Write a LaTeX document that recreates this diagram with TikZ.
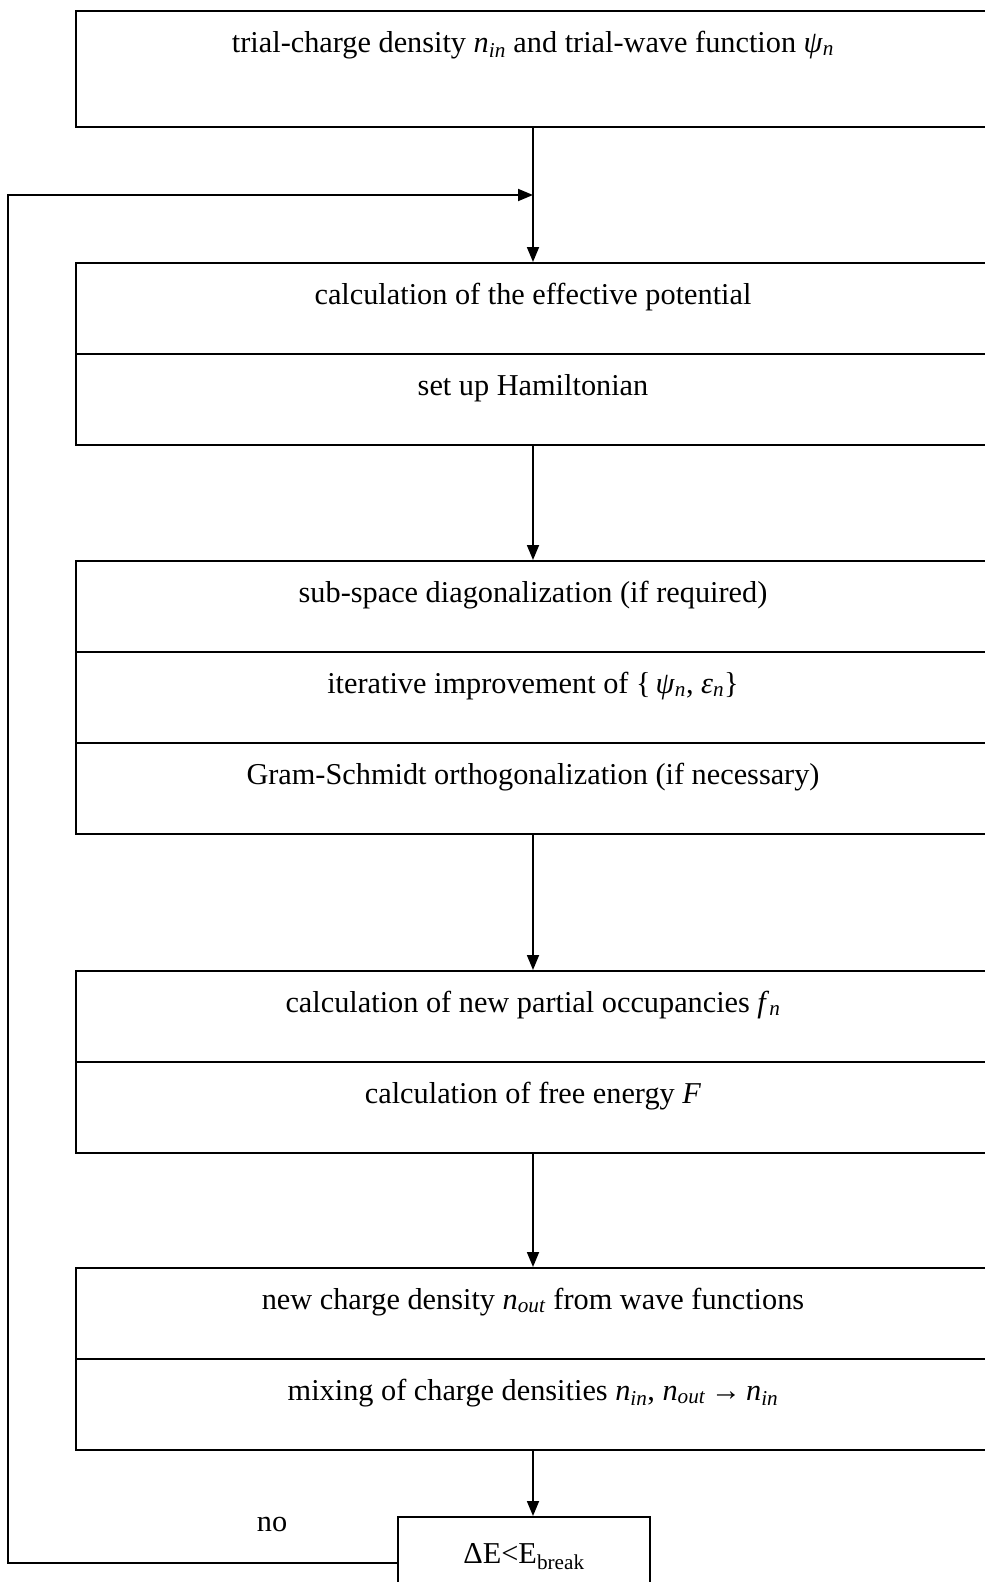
\documentclass[tikz,border=0pt]{standalone}
\usepackage{fontspec}
\setmainfont{Liberation Serif}
\usetikzlibrary{arrows.meta}
\newcommand{\isub}[2]{\textit{#1}\textsubscript{\textit{#2}}}
\begin{document}
\begin{tikzpicture}[x=1pt,y=-1pt,
    cell/.style={draw,line width=2.2pt,inner sep=0pt,minimum width=914pt,
      text height=41pt,text depth=50pt,anchor=north,
      font=\fontsize{30.3}{36}\selectfont},
    topcell/.style={cell,text depth=75pt},
    testcell/.style={cell,minimum width=252pt,text height=46pt,text depth=46pt},
    flow/.style={line width=1.8pt,-{Triangle[length=15pt,width=12pt]}}]
  \useasboundingbox (0,0) rectangle (985,1582);
  \clip (0,0) rectangle (985,1582);
  \draw
    (533,10) node[topcell] (trial){trial-charge density \isub{n}{in} and trial-wave function \isub{ψ}{n}}
    (533,262) node[cell] (effpot){calculation of the effective potential}
    (533,353) node[cell] (hamilt){set up Hamiltonian}
    (533,560) node[cell] (subdiag){sub-space diagonalization (if required)}
    (533,651) node[cell] (iterimp){iterative improvement of \{\,\isub{ψ}{n}, \isub{ε}{n}\}}
    (533,742) node[cell] (gramschm){Gram-Schmidt orthogonalization (if necessary)}
    (533,970) node[cell] (occup){calculation of new partial occupancies \isub{f}{n}}
    (533,1061) node[cell] (freeen){calculation of free energy \textit{F}}
    (533,1267) node[cell] (newdens){new charge density \isub{n}{out} from wave functions}
    (533,1358) node[cell] (mixing){mixing of charge densities \isub{n}{in}, \isub{n}{out}\,→\,\isub{n}{in}}
    (524,1516) node[testcell] (test){ΔE<E\textsubscript{break}}
    (272,1524) node[font=\fontsize{30.3}{36}\selectfont] (no){no};
  \coordinate (join) at (533,195);
  \coordinate (corner) at (8,195);
  \begin{scope}[flow]
    \draw (trial) to (effpot);
    \draw (hamilt) to (subdiag);
    \draw (gramschm) to (occup);
    \draw (freeen) to (newdens);
    \draw (mixing.south) to (mixing.south |- test.north);
    \draw (test.west) -| (corner) -- (join);
  \end{scope}
\end{tikzpicture}
\end{document}
